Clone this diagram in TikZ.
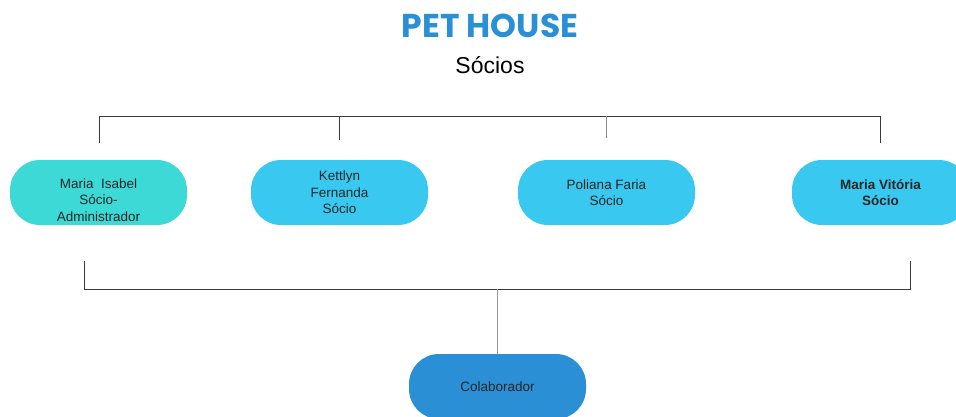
\documentclass[tikz,border=0pt]{standalone}
\usepackage{fontspec}
\setmainfont{Liberation Sans}
\newfontfamily\titlefont{Poppins}
\usetikzlibrary{positioning}
\definecolor{tealfill}{HTML}{3DD9D6}
\definecolor{skyfill}{HTML}{38C8F0}
\definecolor{bluefill}{HTML}{2B8FD6}
\definecolor{linegray}{HTML}{3A3A3A}

\begin{document}
\begin{tikzpicture}[x=1pt,y=-1pt,node distance=241pt,on grid,
		socio/.style={rounded corners=30pt,minimum width=177pt,minimum height=65pt,
			align=center,text=black!85,font=\fontsize{13.5}{16.5}\selectfont,fill=skyfill},
		branch/.style={draw=linegray,line width=0.9pt}]
		\clip (0,0) rectangle (956,416);
		\node[text=bluefill,font=\titlefont\fontsize{33}{38}\bfseries\selectfont] (title) at (490,26) {PET HOUSE};
		\node[font=\fontsize{23}{26}\selectfont] (sub) at (490,65) {Sócios};
		\node[socio,fill=tealfill,inner ysep=1pt] (s_1) at (98.5,192.5) {\rule{0pt}{25pt}Maria\ \ Isabel\\Sócio-\\Administrador};
		\node[socio] (s_2) [right=of s_1] {Kettlyn\\Fernanda\\Sócio};
		\node[socio] (s_3) [right=267pt of s_2] {Poliana Faria\\Sócio};
		\node[socio,font=\fontsize{13.5}{16.5}\selectfont\bfseries] (s_4) [right=274pt of s_3] {Maria Vitória\\Sócio};
		\node[socio,fill=bluefill] (colab) at (497.5,386.5) {Colaborador};
		% chave de cima
		\coordinate (t_1) at (99,116);
		\coordinate (t_4) at (880,116);
		\draw[branch] (t_1) ++(0,27) -- (t_1) -- (t_4) -- ++(0,27);
		\draw[branch] (339,116) -- ++(0,24);
		\draw[branch,draw=linegray!60] (606,116) -- ++(0,22);
		% chave de baixo
		\coordinate (b_1) at (84,289);
		\coordinate (b_2) at (910,289);
		\draw[branch] (b_1) ++(0,-28) -- (b_1) -- (b_2) -- ++(0,-28);
		\draw[branch,draw=linegray!50] (colab.north |- b_1) -- (colab);
	\end{tikzpicture}
\end{document}
